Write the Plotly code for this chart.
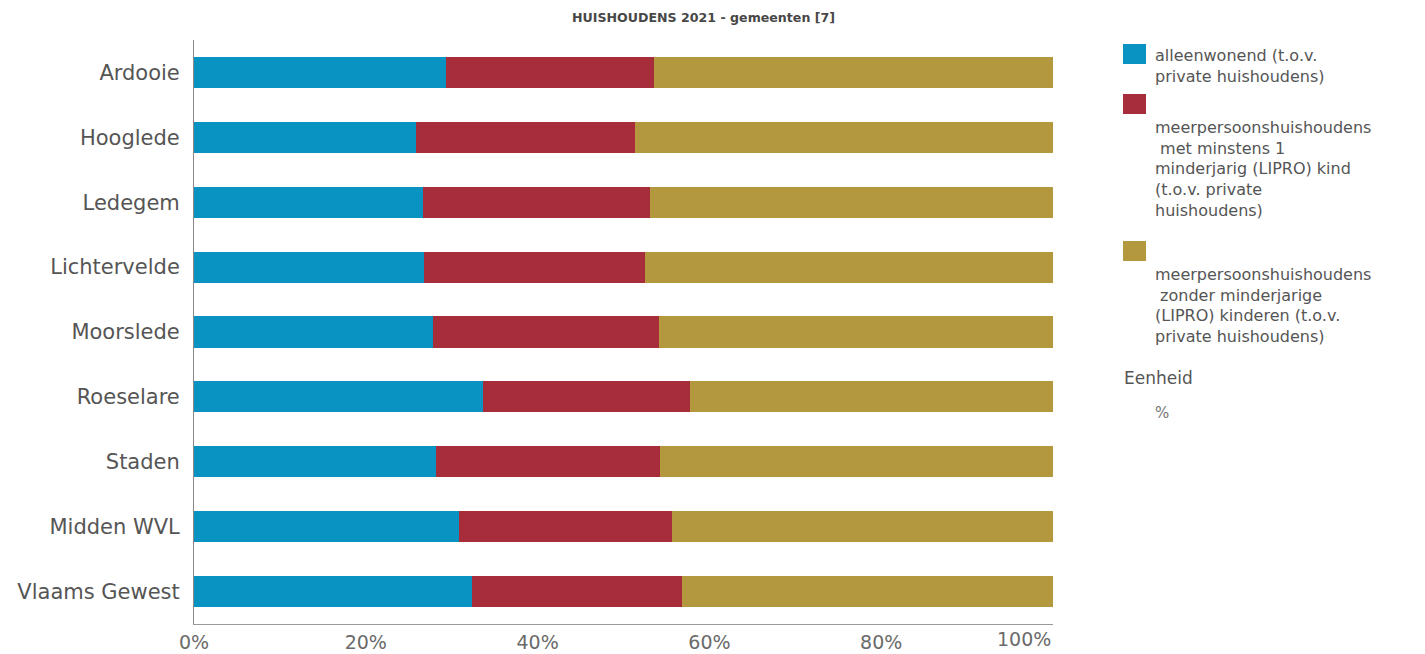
import plotly.graph_objects as go

# Household composition per municipality, 2021 (% of private households)
regions = ["Ardooie", "Hooglede", "Ledegem", "Lichtervelde", "Moorslede",
           "Roeselare", "Staden", "Midden WVL", "Vlaams Gewest"]
alleenwonend = [29.3, 25.8, 26.7, 26.8, 27.8, 33.7, 28.2, 30.8, 32.4]
met_kind = [24.2, 25.5, 26.4, 25.7, 26.3, 24.0, 26.0, 24.9, 24.4]
zonder_kind = [46.5, 48.7, 46.9, 47.5, 45.9, 42.3, 45.8, 44.3, 43.2]

series_names = [
    "alleenwonend (t.o.v.<br>private huishoudens)",
    "\u00a0<br>meerpersoonshuishoudens<br>\u00a0met minstens 1<br>minderjarig (LIPRO) kind<br>(t.o.v. private<br>huishoudens)",
    "\u00a0<br>meerpersoonshuishoudens<br>\u00a0zonder minderjarige<br>(LIPRO) kinderen (t.o.v.<br>private huishoudens)",
]
series_values = [alleenwonend, met_kind, zonder_kind]
colors = ["#0993c3", "#a72d3b", "#b3983d"]

x_ticks = [0, 20, 40, 60, 80]
x_tick_labels = ["0%", "20%", "40%", "60%", "80%"]
last_tick_label = "100%"
title_text = "HUISHOUDENS 2021 - gemeenten [7]"
unit_label = "Eenheid"
unit_value = "%"

W, H = 1425, 654
L, R, T, B = 194, 1053, 40, 624   # plot area in pixels

def fx(px):
    return (px - L) / (R - L)

def fy(py):
    return (B - py) / (B - T)

fig = go.Figure()
for name, vals, col in zip(series_names, series_values, colors):
    fig.add_trace(go.Bar(
        y=regions, x=vals, orientation="h", name=name.replace("\u00a0<br>", ""),
        marker=dict(color=col, line=dict(width=0)),
        showlegend=False, hoverinfo="x+y",
    ))

annotations = []
shapes = []

# chart title
annotations.append(dict(
    text="<b>" + title_text + "</b>", xref="paper", yref="paper",
    x=fx(703), y=fy(18), xanchor="center", yanchor="middle", showarrow=False,
    font=dict(family="DejaVu Sans", size=12.6, color="#474747"),
))

# last tick label kept inside the axis end
annotations.append(dict(
    text=last_tick_label, xref="x", yref="paper", x=100, y=fy(639),
    xanchor="right", yanchor="middle", showarrow=False,
    font=dict(family="DejaVu Sans", size=19, color="#6a6a6a"),
))

# legend: coloured squares with wrapped labels
legend_tops = [44, 94, 241]
legend_font = 16
line_h = 1.3 * legend_font
text_x = 1153
for name, col, top in zip(series_names, colors, legend_tops):
    shapes.append(dict(
        type="rect", xref="paper", yref="paper",
        x0=fx(1123), x1=fx(1146), y0=fy(top), y1=fy(top + 20),
        fillcolor=col, line=dict(width=0),
    ))
    n_lines = name.count("<br>") + 1
    first_center = top + 12
    annotations.append(dict(
        text=name, xref="paper", yref="paper", align="left",
        x=fx(text_x), y=fy(first_center + (n_lines - 1) * line_h / 2),
        xanchor="left", yanchor="middle", showarrow=False,
        font=dict(family="DejaVu Sans", size=legend_font, color="#555555"),
    ))

annotations.append(dict(
    text=unit_label, xref="paper", yref="paper", x=fx(1122), y=fy(378),
    xanchor="left", yanchor="middle", showarrow=False,
    font=dict(family="DejaVu Sans", size=17, color="#555555"),
))
annotations.append(dict(
    text=unit_value, xref="paper", yref="paper", x=fx(1153), y=fy(413),
    xanchor="left", yanchor="middle", showarrow=False,
    font=dict(family="DejaVu Sans", size=15, color="#777777"),
))

fig.update_layout(
    width=W, height=H,
    margin=dict(l=L, r=W - R, t=T, b=H - B, pad=0, autoexpand=False),
    barmode="stack", bargap=0.52,
    paper_bgcolor="white", plot_bgcolor="white",
    annotations=annotations, shapes=shapes,
    showlegend=False,
)
fig.update_xaxes(
    range=[0, 100], tickmode="array", tickvals=x_ticks, ticktext=x_tick_labels,
    showgrid=False, zeroline=False, showline=True, automargin=False,
    linecolor="#9a9a9a", linewidth=1, ticks="",
    ticklabelstandoff=1,
    tickfont=dict(family="DejaVu Sans", size=19, color="#6a6a6a"),
)
fig.update_yaxes(
    autorange="reversed", showgrid=False, zeroline=False, showline=True,
    automargin=False,
    linecolor="#8a8a8a", linewidth=1, ticks="",
    ticklabelstandoff=9,
    tickfont=dict(family="DejaVu Sans", size=21, color="#555555"),
)

fig.write_html("out.html")
